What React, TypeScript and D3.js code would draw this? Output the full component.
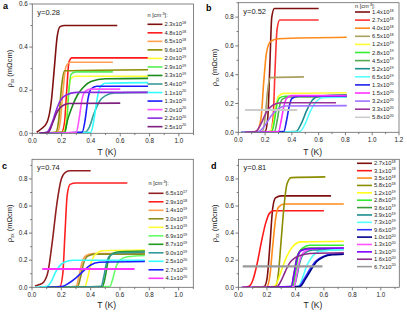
import {useEffect, useRef} from 'react';
import * as d3 from 'd3';

type Pt = [number, number];

// ---- panel a : y=0.28 ----
const labelsA = ['2.3x10|18', '4.8x10|18', '6.5x10|18', '9.6x10|18', '2.0x10|19', '2.9x10|19', '3.3x10|19', '5.4x10|19', '1.1x10|20', '1.3x10|20', '2.0x10|20', '2.2x10|20', '2.5x10|20'];
const colorsA = ['#7f1010', '#ff1a1a', '#ffa050', '#8c8c00', '#ffff33', '#55ee55', '#1a8c1a', '#3a9a9a', '#33ffff', '#1a1aff', '#ff55ff', '#8a2be2', '#7f1f7f'];
const curvesA: Pt[][] = [
  [[0.03, 0.005], [0.06, 0.02], [0.1, 0.05], [0.13, 0.15], [0.15, 0.3], [0.17, 0.45], [0.19, 0.495], [0.22, 0.5], [0.58, 0.5]],
  [[0.05, 0], [0.2, 0.005], [0.22, 0.05], [0.235, 0.2], [0.25, 0.33], [0.27, 0.35], [0.79, 0.35]],
  [[0.05, 0], [0.17, 0.005], [0.19, 0.05], [0.21, 0.2], [0.23, 0.31], [0.26, 0.33], [0.55, 0.33]],
  [[0.05, 0], [0.16, 0.005], [0.18, 0.06], [0.2, 0.22], [0.22, 0.29], [0.79, 0.295]],
  [[0.05, 0], [0.21, 0.005], [0.23, 0.05], [0.245, 0.18], [0.26, 0.25], [0.29, 0.265], [0.79, 0.265]],
  [[0.05, 0], [0.22, 0], [0.235, 0.05], [0.25, 0.2], [0.265, 0.275], [0.3, 0.285], [0.55, 0.285]],
  [[0.05, 0], [0.22, 0.005], [0.24, 0.06], [0.27, 0.12], [0.31, 0.18], [0.35, 0.215], [0.4, 0.24], [0.5, 0.253], [0.79, 0.255]],
  [[0.05, 0], [0.36, 0.005], [0.39, 0.03], [0.42, 0.09], [0.46, 0.15], [0.5, 0.175], [0.56, 0.187], [0.79, 0.19]],
  [[0.05, 0], [0.4, 0.005], [0.42, 0.06], [0.44, 0.15], [0.46, 0.21], [0.5, 0.232], [0.79, 0.235]],
  [[0.05, 0], [0.34, 0.005], [0.36, 0.06], [0.38, 0.16], [0.4, 0.205], [0.44, 0.218], [0.79, 0.218]],
  [[0.05, 0], [0.3, 0.005], [0.32, 0.07], [0.34, 0.16], [0.36, 0.195], [0.4, 0.205], [0.6, 0.205]],
  [[0.05, 0], [0.1, 0.005], [0.13, 0.04], [0.16, 0.1], [0.19, 0.15], [0.23, 0.178], [0.3, 0.19], [0.79, 0.19]],
  [[0.05, 0], [0.11, 0.005], [0.14, 0.05], [0.17, 0.1], [0.2, 0.125], [0.25, 0.138], [0.6, 0.14]],
];

// ---- panel b : y=0.52 ----
const labelsB = ['1.4x10|18', '2.7x10|18', '4.0x10|18', '6.5x10|18', '1.2x10|19', '2.8x10|19', '4.5x10|19', '5.2x10|19', '6.5x10|19', '1.3x10|20', '1.5x10|20', '3.2x10|20', '3.3x10|20', '5.8x10|20'];
const colorsB = ['#7f1010', '#ff3333', '#ff8c1a', '#a8a060', '#ffff33', '#33ee33', '#55aa55', '#1a8c8c', '#55ffff', '#2020ee', '#ff33ff', '#a070ff', '#993399', '#cccccc'];
const curvesB: Pt[][] = [
  [[0.15, 0], [0.2, 0.005], [0.22, 0.1], [0.235, 0.45], [0.25, 0.8], [0.27, 0.86], [0.6, 0.86]],
  [[0.15, 0], [0.24, 0.005], [0.26, 0.1], [0.275, 0.45], [0.29, 0.72], [0.31, 0.78], [0.6, 0.78]],
  [[0.1, 0], [0.14, 0.01], [0.17, 0.1], [0.19, 0.35], [0.21, 0.55], [0.24, 0.63], [0.3, 0.65], [0.81, 0.66]],
  [[0.15, 0], [0.18, 0.005], [0.2, 0.1], [0.22, 0.3], [0.24, 0.38], [0.49, 0.385]],
  [[0.1, 0], [0.24, 0.005], [0.26, 0.06], [0.28, 0.18], [0.3, 0.25], [0.34, 0.27], [0.81, 0.275]],
  [[0.1, 0], [0.25, 0.005], [0.27, 0.08], [0.29, 0.2], [0.31, 0.24], [0.35, 0.25], [0.81, 0.25]],
  [[0.1, 0], [0.27, 0.005], [0.29, 0.08], [0.31, 0.19], [0.33, 0.23], [0.38, 0.245], [0.81, 0.245]],
  [[0.1, 0], [0.43, 0.005], [0.47, 0.06], [0.51, 0.15], [0.55, 0.22], [0.6, 0.25], [0.81, 0.26]],
  [[0.1, 0], [0.46, 0.005], [0.5, 0.06], [0.54, 0.15], [0.58, 0.21], [0.63, 0.24], [0.81, 0.245]],
  [[0.02, 0], [0.34, 0.005], [0.36, 0.08], [0.38, 0.18], [0.4, 0.235], [0.45, 0.25], [0.81, 0.25]],
  [[0.05, 0], [0.3, 0.005], [0.32, 0.08], [0.34, 0.18], [0.36, 0.235], [0.4, 0.255], [0.81, 0.255]],
  [[0.05, 0], [0.15, 0.005], [0.2, 0.05], [0.25, 0.12], [0.3, 0.165], [0.35, 0.183], [0.81, 0.185]],
  [[0.05, 0], [0.13, 0.005], [0.17, 0.06], [0.21, 0.14], [0.26, 0.19], [0.32, 0.205], [0.73, 0.205]],
  [[0.05, 0.155], [0.44, 0.155]],
];

// ---- panel c : y=0.74 ----
const labelsC = ['6.5x10|17', '2.9x10|18', '1.4x10|19', '3.0x10|19', '5.1x10|19', '6.9x10|19', '8.7x10|19', '9.0x10|19', '2.5x10|20', '2.7x10|20', '4.1x10|20'];
const colorsC = ['#902020', '#ff2020', '#ffa050', '#8c8c20', '#ffff33', '#66ff66', '#229922', '#339999', '#33ffff', '#2020ff', '#ff33ff'];
const curvesC: Pt[][] = [
  [[0.02, 0.01], [0.05, 0.02], [0.08, 0.04], [0.11, 0.12], [0.14, 0.35], [0.17, 0.62], [0.2, 0.8], [0.23, 0.85], [0.26, 0.86], [0.4, 0.86]],
  [[0.05, 0], [0.19, 0.005], [0.21, 0.1], [0.225, 0.4], [0.24, 0.68], [0.26, 0.76], [0.3, 0.77], [0.65, 0.77]],
  [[0.1, 0], [0.3, 0.005], [0.32, 0.08], [0.34, 0.18], [0.37, 0.235], [0.42, 0.25], [0.77, 0.25]],
  [[0.1, 0], [0.31, 0.005], [0.33, 0.07], [0.35, 0.17], [0.38, 0.23], [0.43, 0.245], [0.77, 0.245]],
  [[0.1, 0], [0.36, 0.005], [0.38, 0.07], [0.4, 0.17], [0.43, 0.24], [0.48, 0.27], [0.77, 0.275]],
  [[0.1, 0], [0.53, 0.005], [0.55, 0.06], [0.57, 0.14], [0.6, 0.2], [0.65, 0.225], [0.77, 0.235]],
  [[0.1, 0], [0.48, 0.005], [0.5, 0.08], [0.52, 0.2], [0.55, 0.25], [0.6, 0.262], [0.77, 0.268]],
  [[0.05, 0], [0.47, 0.005], [0.49, 0.08], [0.51, 0.19], [0.54, 0.24], [0.6, 0.255], [0.77, 0.26]],
  [[0.02, 0], [0.1, 0.005], [0.13, 0.04], [0.16, 0.11], [0.19, 0.16], [0.22, 0.185], [0.28, 0.2], [0.77, 0.2]],
  [[0.1, 0], [0.2, 0.005], [0.25, 0.03], [0.3, 0.07], [0.35, 0.12], [0.4, 0.165], [0.46, 0.185], [0.77, 0.19]],
  [[0.07, 0.135], [0.7, 0.135]],
];

// ---- panel d : y=0.81 ----
const labelsD = ['2.7x10|18', '3.1x10|18', '3.5x10|18', '5.8x10|18', '1.2x10|19', '2.8x10|19', '3.6x10|19', '3.9x10|19', '7.3x10|19', '9.6x10|19', '1.0x10|20', '1.3x10|20', '1.3x10|20', '1.6x10|20', '6.7x10|20'];
const colorsD = ['#7f1010', '#ff1a1a', '#ff8c1a', '#8c8c00', '#ffff1a', '#33ee33', '#3a9a3a', '#1a8c8c', '#55ffff', '#3333ff', '#00008b', '#ff55ff', '#8000ff', '#8b2a8b', '#999999'];
const curvesD: Pt[][] = [
  [[0.1, 0], [0.18, 0.005], [0.2, 0.06], [0.22, 0.3], [0.24, 0.58], [0.26, 0.66], [0.3, 0.675], [0.65, 0.675]],
  [[0.03, 0], [0.07, 0.005], [0.1, 0.05], [0.13, 0.17], [0.16, 0.33], [0.19, 0.47], [0.22, 0.55], [0.25, 0.565], [0.6, 0.565]],
  [[0.1, 0], [0.2, 0.005], [0.22, 0.08], [0.24, 0.3], [0.26, 0.5], [0.28, 0.59], [0.32, 0.615], [0.74, 0.615]],
  [[0.1, 0], [0.26, 0.005], [0.28, 0.1], [0.3, 0.35], [0.32, 0.6], [0.34, 0.76], [0.37, 0.81], [0.61, 0.815]],
  [[0.1, 0], [0.25, 0.005], [0.28, 0.06], [0.31, 0.15], [0.34, 0.23], [0.38, 0.3], [0.44, 0.335], [0.74, 0.34]],
  [[0.2, 0], [0.38, 0.005], [0.4, 0.1], [0.42, 0.23], [0.45, 0.29], [0.5, 0.31], [0.74, 0.31]],
  [[0.2, 0], [0.37, 0.005], [0.39, 0.1], [0.41, 0.22], [0.44, 0.275], [0.5, 0.29], [0.74, 0.29]],
  [[0.2, 0], [0.39, 0.005], [0.41, 0.08], [0.43, 0.18], [0.46, 0.25], [0.52, 0.275], [0.74, 0.28]],
  [[0.2, 0], [0.42, 0.005], [0.45, 0.07], [0.48, 0.16], [0.52, 0.23], [0.57, 0.265], [0.74, 0.28]],
  [[0.2, 0], [0.42, 0.005], [0.46, 0.06], [0.5, 0.13], [0.54, 0.19], [0.6, 0.23], [0.66, 0.245], [0.74, 0.25]],
  [[0.2, 0], [0.43, 0.005], [0.47, 0.06], [0.51, 0.13], [0.55, 0.19], [0.6, 0.225], [0.66, 0.24], [0.74, 0.245]],
  [[0.2, 0], [0.39, 0.005], [0.41, 0.1], [0.43, 0.2], [0.46, 0.26], [0.52, 0.285], [0.74, 0.29]],
  [[0.02, 0], [0.37, 0.005], [0.39, 0.1], [0.41, 0.21], [0.44, 0.27], [0.5, 0.285], [0.74, 0.29]],
  [[0.2, 0], [0.27, 0.005], [0.3, 0.05], [0.33, 0.12], [0.36, 0.18], [0.4, 0.22], [0.45, 0.24], [0.5, 0.25], [0.74, 0.255]],
  [[0.03, 0.155], [0.59, 0.155]],
];

const xTicksTop = [0, 0.2, 0.4, 0.6, 0.8, 1.0];
const xTicksB = [0, 0.2, 0.4, 0.6, 0.8, 1.0, 1.2];
const yTicksA = [0, 0.2, 0.4, 0.6];
const yTicksBCD = [0, 0.2, 0.4, 0.6, 0.8];

const FONT = '"Liberation Sans", Arial, sans-serif';

export default function App() {
  const svgRef = useRef<SVGSVGElement>(null);

  useEffect(() => {
    if (!svgRef.current) return;
    const svg = d3.select(svgRef.current);
    svg.selectAll('*').remove();
    svg.append('rect').attr('width', 407).attr('height', 312).attr('fill', '#fff');

    const panels = [
      {letter: 'a', lx: 3, ly: 9, yTxt: 'y=0.28', x0: 32.3, x1: 193.5, y0: 133.3, y1: 4, xd: [0, 1.1], yd: [0, 0.6], xt: xTicksTop, yt: yTicksA,
        labels: labelsA, colors: colorsA, curves: curvesA, legX: 147.5, legY: 24.3, legDy: 8.53, headY: 16.5, tLabelY: 155, ylx: 12},
      {letter: 'b', lx: 206, ly: 10.5, yTxt: 'y=0.52', x0: 238.3, x1: 399, y0: 132.3, y1: 2.7, xd: [0, 1.2], yd: [0, 0.9], xt: xTicksB, yt: yTicksBCD,
        labels: labelsB, colors: colorsB, curves: curvesB, legX: 355, legY: 12, legDy: 8.1, headY: 7.5, tLabelY: 155, ylx: 217},
      {letter: 'c', lx: 2, ly: 168.5, yTxt: 'y=0.74', x0: 32, x1: 193.3, y0: 287.3, y1: 159.3, xd: [0, 1.1], yd: [0, 0.945], xt: xTicksTop, yt: yTicksBCD,
        labels: labelsC, colors: colorsC, curves: curvesC, legX: 148.5, legY: 193.3, legDy: 8.5, headY: 185.3, tLabelY: 308, ylx: 12},
      {letter: 'd', lx: 211, ly: 168.5, yTxt: 'y=0.81', x0: 238.5, x1: 399.3, y0: 287.3, y1: 159.3, xd: [0, 1.13], yd: [0, 0.945], xt: xTicksTop, yt: yTicksBCD,
        labels: labelsD, colors: colorsD, curves: curvesD, legX: 357, legY: 163.3, legDy: 7.38, headY: 0, tLabelY: 308, ylx: 217},
    ];

    panels.forEach((p) => {
      const x = d3.scaleLinear().domain(p.xd).range([p.x0, p.x1]);
      const y = d3.scaleLinear().domain(p.yd).range([p.y0, p.y1]);
      const g = svg.append('g').attr('font-family', FONT);

      // minor ticks
      const xMinor = d3.range(0, p.xd[1] + 0.001, 0.1);
      const yMinor = d3.range(0, p.yd[1] + 0.001, 0.1);
      g.selectAll('.xm').data(xMinor).join('line')
        .attr('x1', (d) => x(d)).attr('x2', (d) => x(d))
        .attr('y1', p.y0).attr('y2', (d) => p.y0 + (p.xt.some((t) => Math.abs(t - d) < 1e-6) ? 3 : 1.8))
        .attr('stroke', '#444').attr('stroke-width', 0.7);
      g.selectAll('.ym').data(yMinor).join('line')
        .attr('y1', (d) => y(d)).attr('y2', (d) => y(d))
        .attr('x1', p.x0).attr('x2', (d) => p.x0 - (p.yt.some((t) => Math.abs(t - d) < 1e-6) ? 3 : 1.8))
        .attr('stroke', '#444').attr('stroke-width', 0.7);

      g.selectAll('.xl').data(p.xt).join('text')
        .attr('x', (d) => x(d)).attr('y', p.y0 + 9.5)
        .attr('text-anchor', 'middle').attr('font-size', 6.3).attr('fill', '#222')
        .text((d) => d3.format('.1f')(d));
      g.selectAll('.yl').data(p.yt).join('text')
        .attr('x', p.x0 - 4.5).attr('y', (d) => y(d) + 2.2)
        .attr('text-anchor', 'end').attr('font-size', 6.3).attr('fill', '#222')
        .text((d) => d3.format('.1f')(d));

      // curves
      const clipId = 'clip-' + p.letter;
      g.append('clipPath').attr('id', clipId).append('rect')
        .attr('x', p.x0).attr('y', p.y1).attr('width', p.x1 - p.x0).attr('height', p.y0 - p.y1);
      const line = d3.line<Pt>().x((d) => x(d[0])).y((d) => y(d[1])).curve(d3.curveMonotoneX);
      const cg = g.append('g').attr('clip-path', `url(#${clipId})`);
      p.curves.forEach((c, i) => {
        cg.append('path').attr('d', line(c)).attr('fill', 'none')
          .attr('stroke', p.colors[i]).attr('stroke-width', c.length === 2 ? 2.2 : 1.6)
          .attr('stroke-linejoin', 'round');
      });

      // frame
      g.append('rect').attr('x', p.x0).attr('y', p.y1).attr('width', p.x1 - p.x0).attr('height', p.y0 - p.y1)
        .attr('fill', 'none').attr('stroke', '#666').attr('stroke-width', 0.8);

      // legend
      if (p.headY) {
        const h = g.append('text').attr('x', p.legX).attr('y', p.headY).attr('font-size', 5.6).attr('fill', '#222');
        h.append('tspan').text('n [cm');
        h.append('tspan').attr('dy', -2).attr('font-size', 3.8).text('-3');
        h.append('tspan').attr('dy', 2).text(']:');
      }
      p.labels.forEach((lab, i) => {
        const ly = p.legY + i * p.legDy;
        g.append('line').attr('x1', p.legX).attr('x2', p.legX + 15).attr('y1', ly).attr('y2', ly)
          .attr('stroke', p.colors[i]).attr('stroke-width', 1.6);
        const [m, e] = lab.split('|');
        const t = g.append('text').attr('x', p.legX + 17).attr('y', ly + 2).attr('font-size', 5.8).attr('fill', '#222');
        t.append('tspan').text(m);
        t.append('tspan').attr('dy', -2.2).attr('font-size', 3.8).text(e);
      });

      // texts
      g.append('text').attr('x', p.lx).attr('y', p.ly).attr('font-size', 9).attr('font-weight', 'bold').attr('fill', '#000').text(p.letter);
      g.append('text').attr('x', p.x0 + 5).attr('y', p.y1 + 11).attr('font-size', 7.5).attr('fill', '#222').text(p.yTxt);
      g.append('text').attr('x', (p.x0 + p.x1) / 2 - 6).attr('y', p.tLabelY).attr('text-anchor', 'middle')
        .attr('font-size', 8.5).attr('fill', '#222').text('T (K)');
      const cy = (p.y0 + p.y1) / 2;
      const yl = g.append('text').attr('transform', `translate(${p.ylx},${cy}) rotate(-90)`)
        .attr('text-anchor', 'middle').attr('font-size', 7.5).attr('fill', '#222');
      yl.append('tspan').text('ρ');
      yl.append('tspan').attr('dy', 2).attr('font-size', 4.5).text('xx');
      yl.append('tspan').attr('dy', -2).text(' (mΩcm)');
    });
  }, []);

  return (
    <svg ref={svgRef} width={407} height={312}
      style={{position: 'fixed', left: 0, top: 0, display: 'block'}} />
  );
}
